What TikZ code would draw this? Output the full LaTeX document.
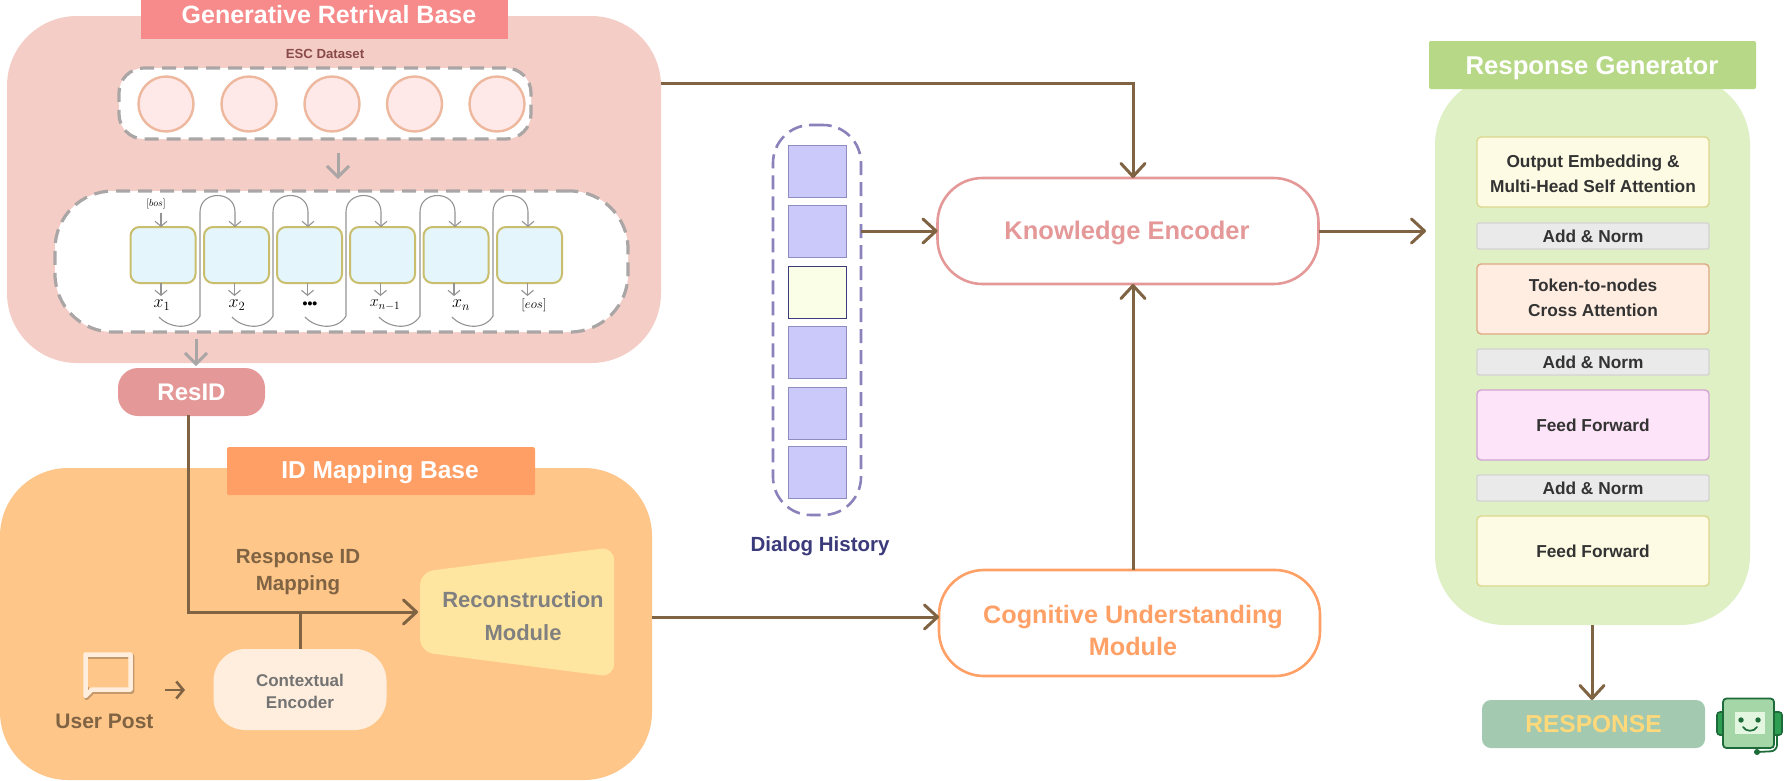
\documentclass[tikz,border=0pt]{standalone}
\usepackage{fix-cm}
\usepackage{fontspec}
\setmainfont{Liberation Sans}
\usetikzlibrary{arrows.meta}
\definecolor{genpanel}{HTML}{F4CDC6}
\definecolor{genhead}{HTML}{F78B8B}
\definecolor{dashgray}{HTML}{ABA6A6}
\definecolor{brownline}{HTML}{7F6343}
\definecolor{idpanel}{HTML}{FFC689}
\definecolor{idhead}{HTML}{FF9F66}
\definecolor{resid}{HTML}{E59898}
\definecolor{cogn}{HTML}{FFA066}
\definecolor{respanel}{HTML}{DEF0C4}
\definecolor{reshead}{HTML}{B7D987}
\definecolor{violetd}{HTML}{8A82BB}
\definecolor{escred}{HTML}{8B4A4A}
\definecolor{dhtext}{HTML}{3B3A7A}
\definecolor{outfill}{HTML}{A3C9B0}
\definecolor{outtext}{HTML}{FFD97A}
\tikzset{
  x=1pt,y=-1pt,
  txt/.style={inner sep=0pt,outer sep=0pt,align=center,font=\bfseries},
  boxn/.style={inner sep=0pt,outer sep=0pt,align=center,font=\bfseries,rectangle},
  mainarrow/.style={draw=brownline,line width=3pt,-{Straight Barb[length=13pt,width=24pt,line width=3pt,round]}},
  grayarrow/.style={draw=dashgray,line width=3pt,-{Straight Barb[length=11pt,width=22pt,line width=3pt]}},
  thinarrow/.style={draw=black!42,line width=1.1pt,-{Straight Barb[length=5pt,width=12pt,line width=1.1pt]}},
  dashbox/.style={boxn,fill=white,draw=dashgray,line width=3.2pt,dash pattern=on 14pt off 8pt},
  circ/.style={circle,minimum size=55pt,inner sep=0pt,fill=FEE,draw=peachl,line width=2.4pt},
  cellbox/.style={boxn,minimum width=65pt,minimum height=56pt,rounded corners=9pt,fill=cellb,draw=celld,line width=2pt},
  histbox/.style={boxn,minimum width=58pt,minimum height=52pt,fill=histf,draw=histd,line width=.7pt},
  layer/.style={boxn,minimum width=232pt,minimum height=70pt,rounded corners=4pt,line width=1.4pt,text=textd,font=\bfseries\fontsize{17.3}{25}\selectfont},
  addnorm/.style={boxn,minimum width=232pt,minimum height=26pt,rounded corners=2pt,fill=addg,draw=addd,line width=1.4pt,text=textd,font=\bfseries\fontsize{17.3}{20}\selectfont},
  bigbox/.style={boxn,minimum width=381pt,minimum height=106pt,rounded corners=45pt,fill=white,line width=2.6pt},
}
\definecolor{FEE}{HTML}{FEE8E8}
\definecolor{peachl}{HTML}{EDB89E}
\definecolor{cellb}{HTML}{E4F6FC}
\definecolor{celld}{HTML}{C9BE6E}
\definecolor{histf}{HTML}{CBC8FA}
\definecolor{histd}{HTML}{8F8CC0}
\definecolor{histy}{HTML}{FBFEE6}
\definecolor{textd}{HTML}{333333}
\definecolor{addg}{HTML}{EAEAEA}
\definecolor{addd}{HTML}{D3D3D3}
\definecolor{lyel}{HTML}{FDFBE3}
\definecolor{lyeld}{HTML}{DDD78E}
\definecolor{lpea}{HTML}{FFEDE1}
\definecolor{lpead}{HTML}{E0A982}
\definecolor{lpin}{HTML}{FDE4F8}
\definecolor{lpind}{HTML}{D3A4D4}
\definecolor{recon}{HTML}{FFE6A0}
\definecolor{ctxt}{HTML}{FFEEDD}
\definecolor{robd}{HTML}{1E6B3A}
\definecolor{robf}{HTML}{A5D6A7}
\definecolor{robe}{HTML}{2E9E52}
\definecolor{robs}{HTML}{E3F6DF}
\begin{document}
\begin{tikzpicture}
\useasboundingbox (0,0) rectangle (1788,780);
\fill[white] (0,0) rectangle (1788,780);

% Generative panel
\node[boxn,minimum width=654pt,minimum height=347pt,rounded corners=70pt,fill=genpanel] (gen) at (334,189.5) {};
\node[boxn,minimum width=367pt,minimum height=39pt,fill=genhead] (genhead) at (324.5,19.5) {};
\node[txt,text=white,font=\bfseries\fontsize{25}{30}\selectfont] (genlab) at (329,15) {Generative Retrival Base};
\node[txt,text=escred,font=\bfseries\fontsize{13.2}{14}\selectfont] (esc) at (325,54) {ESC Dataset};
\node[dashbox,minimum width=412pt,minimum height=71pt,rounded corners=25pt] (ds) at (325,103.5) {};
\foreach \n/\x in {c1/166,c2/249,c3/332,c4/414.5,c5/497}
  \node[circ] (\n) at (\x,104) {};
\node[dashbox,minimum width=573pt,minimum height=141pt,rounded corners=58pt] (gpt) at (341.5,261.5) {};
\coordinate (g1s) at (338,153);
\coordinate (g1e) at (338,179);
\draw[grayarrow] (g1s) -- (g1e);

% GPT cells
\foreach \n/\x in {b1/163,b2/236.5,b3/309.5,b4/382.5,b5/456,b6/529.5}
  \node[cellbox] (\n) at (\x,255) {};
\node[txt,font=\fontsize{10}{12}\selectfont] (bos) at (156,204) {$[bos]$};
\coordinate (bs) at (161,213);
\draw[thinarrow] (bs) -- (b1.north -| bs);
\foreach \n/\l/\x/\s/\t in {b1/l1/162/18/{$x_1$},b2/l2/237/18/{$x_2$},b3/l3/310/14/{\textbf{•••}},b4/l4/385/16/{$x_{n-1}$},b5/l5/461/18/{$x_n$},b6/l6/534/13/{$[eos]$}}{
  \node[txt,font=\fontsize{\s}{20}\selectfont] (\l) at (\x,305) {\t};
  \draw[thinarrow] (\n.south) ++(-2,0) -- ++(0,13);
}
\foreach \s/\v/\n in {159/200/b2,232/273/b3,305/346/b4,379/420/b5,452/493/b6}{
  \coordinate (st) at (\s,317);
  \coordinate (en) at (\v+35,0);
  \draw[thinarrow] (st) .. controls (\s+10,328) and (\s+32,331) .. (\v,316) -- (\v,212)
    .. controls (\v,190) and (\v+35,190) .. (\v+35,212) -- (\n.north -| en);
}
\coordinate (g2s) at (196,339);
\coordinate (g2e) at (196,366);
\draw[grayarrow] (g2s) -- (g2e);

% ResID
\node[boxn,minimum width=147pt,minimum height=48pt,rounded corners=20pt,fill=resid,text=white,font=\bfseries\fontsize{24}{28}\selectfont] (res) at (191.5,392) {ResID};

% ID panel
\node[boxn,minimum width=652pt,minimum height=312pt,rounded corners=68pt,fill=idpanel] (idp) at (326,624) {};
\node[boxn,minimum width=308pt,minimum height=48pt,rounded corners=1.5pt,fill=idhead] (idh) at (381,471) {};
\node[txt,text=white,font=\bfseries\fontsize{24.5}{28}\selectfont] (idl) at (380,472) {ID Mapping Base};
\node[txt,text=brownline,font=\bfseries\fontsize{20.5}{27}\selectfont] (rim) at (298,572.5) {Response ID\\Mapping};
\fill[recon,rounded corners=13pt] (420,572) -- (614,547) -- (614,677) -- (420,652) -- cycle;
\node[txt,text=black!50,font=\bfseries\fontsize{22}{33}\selectfont] (rec) at (523,616.5) {Reconstruction\\Module};
\coordinate (recin) at (418,612);
\node[boxn,minimum width=173pt,minimum height=81pt,rounded corners=32pt,fill=ctxt] (ctx) at (300,689.5) {};
\node[txt,text=black!55,font=\bfseries\fontsize{17}{22}\selectfont] (ctxl) at (300,691) {Contextual\\Encoder};
\coordinate (junc) at (300,611.5);
\draw[brownline,line width=3pt] (ctx.north) -- (junc);
\coordinate (resout) at (188,415);
\draw[mainarrow] (resout) |- (recin);
% user post
\draw[draw=brownline!45!idpanel,line width=4.5pt,line join=round] (86.5,656) -- (132,656) -- (132,691.5) -- (93,691.5) -- (86.5,698) -- cycle;
\draw[draw=ctxt,line width=4.5pt,line join=round] (85.5,654.5) -- (130.5,654.5) -- (130.5,689.5) -- (92,689.5) -- (85.5,696) -- cycle;
\fill[idpanel] (88,657) rectangle (128,687);
\fill[brownline!45!idpanel] (88,657) rectangle (128,659);
\node[txt,text=brownline,font=\bfseries\fontsize{21}{24}\selectfont] (up) at (104.5,721) {User Post};
\coordinate (upa) at (165,690);
\coordinate (upb) at (185,690);
\draw[brownline,line width=2.6pt,-{Straight Barb[length=7pt,width=17pt,line width=2.6pt]}] (upa) -- (upb);

% Dialog history
\node[boxn,minimum width=88pt,minimum height=390pt,rounded corners=38pt,draw=violetd,line width=2.6pt,dash pattern=on 14pt off 7pt] (dh) at (817,320) {};
\foreach \n/\y/\f in {h1/171/histf,h2/231.5/histf,h3/292/histy,h4/352/histf,h5/413/histf,h6/472/histf}
  \node[histbox,fill=\f] (\n) at (817,\y) {};
\draw[draw=dhtext,line width=.9pt] (h3.south west) rectangle (h3.north east);
\node[txt,text=dhtext,font=\bfseries\fontsize{20.5}{24}\selectfont] (dhl) at (820,546) {Dialog History};

% Knowledge & Cognitive
\node[bigbox,draw=resid] (know) at (1128,231) {};
\node[txt,text=resid,font=\bfseries\fontsize{25.5}{30}\selectfont] (knowl) at (1127,233) {Knowledge Encoder};
\node[bigbox,draw=cogn] (cog) at (1129.5,623) {};
\node[txt,text=cogn,font=\bfseries\fontsize{25.2}{32}\selectfont] (cogl) at (1133,630) {Cognitive Understanding\\Module};

% Response panel
\node[boxn,minimum width=315pt,minimum height=550pt,rounded corners=70pt,fill=respanel] (rp) at (1592.5,350) {};
\node[boxn,minimum width=327pt,minimum height=48pt,rounded corners=2pt,fill=reshead] (rh) at (1592.5,65) {};
\node[txt,text=white,font=\bfseries\fontsize{25.7}{30}\selectfont] (rhl) at (1592,68) {Response Generator};
\node[layer,fill=lyel,draw=lyeld] (l1) at (1593,172) {};
\node[txt,text=textd,font=\bfseries\fontsize{17.3}{25}\selectfont] (l1t) at (1593,174) {Output Embedding \&\\Multi-Head Self Attention};
\node[addnorm] (a1) at (1593,236) {Add \& Norm};
\node[layer,fill=lpea,draw=lpead] (l2) at (1593,299) {};
\node[txt,text=textd,font=\bfseries\fontsize{17.3}{25}\selectfont] (l2t) at (1593,298) {Token-to-nodes\\Cross Attention};
\node[addnorm] (a2) at (1593,362) {Add \& Norm};
\node[layer,fill=lpin,draw=lpind] (l3) at (1593,425) {Feed Forward};
\node[addnorm] (a3) at (1593,488) {Add \& Norm};
\node[layer,fill=lyel,draw=lyeld] (l4) at (1593,551) {Feed Forward};
\node[boxn,minimum width=223pt,minimum height=48pt,rounded corners=9pt,fill=outfill,text=outtext,font=\bfseries\fontsize{24.5}{28}\selectfont] (out) at (1593.5,724) {RESPONSE};

% Connectors
\coordinate (genout) at (661,83);
\coordinate (kin) at (1133,0);
\draw[mainarrow] (genout) -| (know.north -| kin);
\coordinate (cogtop) at (1133,570);
\draw[mainarrow] (cogtop) -- (know.south -| cogtop);
\coordinate (idout) at (652,617);
\draw[mainarrow] (idout) -- (cog.west |- idout);
\coordinate (dhout) at (861,231);
\draw[mainarrow] (dhout) -- (know.west);
\coordinate (rpin) at (1426,231);
\draw[mainarrow] (know.east) -- (rpin);
\coordinate (rpout) at (1592,625);
\draw[mainarrow] (rpout) -- (out.north -| rpout);

% Robot
\filldraw[fill=robe,draw=robd,line width=1.6pt,rounded corners=3pt] (1717,712) rectangle (1728,735);
\filldraw[fill=robe,draw=robd,line width=1.6pt,rounded corners=3pt] (1770,712) rectangle (1782,735);
\draw[robd,line width=1.8pt,line cap=round,rounded corners=6pt] (1777,736) -- (1777,751) -- (1757,752);
\fill[robd] (1757,752) circle (3pt);
\filldraw[fill=robf,draw=robd,line width=1.8pt,rounded corners=3.5pt] (1723,698.5) rectangle (1774,748);
\fill[robs] (1735,712) rectangle (1765,733.5);
\fill[robd] (1741,720) circle (2.7pt) (1758,720) circle (2.7pt);
\draw[robd,line width=1.7pt,line cap=round] (1743,727) .. controls (1746,732) and (1754,732) .. (1757,727);
\end{tikzpicture}
\end{document}
